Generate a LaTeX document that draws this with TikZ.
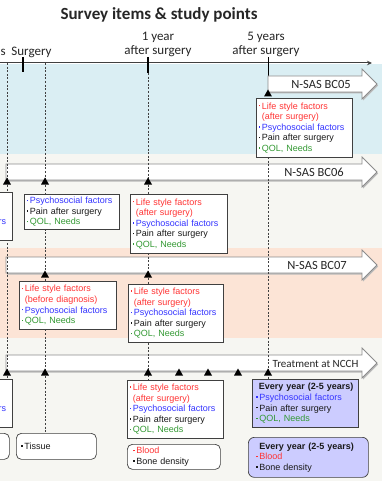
\documentclass[tikz,border=0pt]{standalone}
\usepackage{fontspec}
\newfontfamily\calf{Carlito}
\newfontfamily\arif{Liberation Sans}
\usetikzlibrary{arrows.meta}
\definecolor{bandblue}{HTML}{DAEEF3}
\definecolor{bandpeach}{HTML}{FCE4D6}
\definecolor{bandgray}{HTML}{F6F6F2}
\definecolor{tred}{HTML}{FF3333}
\definecolor{tblue}{HTML}{3333FF}
\definecolor{tgreen}{HTML}{339933}
\definecolor{lav}{HTML}{CCCCFF}
\definecolor{linec}{HTML}{404040}
\definecolor{arrc}{HTML}{8C8C8C}
\newcommand{\bul}{\rule[2.6pt]{1.5pt}{1.5pt}\hspace{1.6pt}}
\newcommand{\nobul}{\hspace{3.1pt}}
\newcommand{\tLsf}{\textcolor{tred}{\bul Life style factors}}
\newcommand{\tAft}{\textcolor{tred}{\nobul(after surgery)}}
\newcommand{\tBef}{\textcolor{tred}{\nobul(before diagnosis)}}
\newcommand{\tPsy}{\textcolor{tblue}{\bul Psychosocial factors}}
\newcommand{\tPain}{\bul Pain after surgery}
\newcommand{\tQol}{\textcolor{tgreen}{\bul QOL, Needs}}
\newcommand{\tBlood}{\textcolor{tred}{\bul Blood}}
\newcommand{\tBone}{\bul Bone density}
\newcommand{\tEvery}{\textbf{Every year (2-5 years)}}
\newcommand{\bigarr}[2]{%
  \fill[gray!55] (#1+1,#2-8+1.5) -- (363,#2-8+1.5) -- (363,#2-15+1.5) -- (378,#2+1.5) -- (363,#2+15+1.5) -- (363,#2+8+1.5) -- (#1+1,#2+8+1.5) -- cycle;
  \draw[arrc, line width=0.8pt, fill=white] (#1,#2-8) -- (362,#2-8) -- (362,#2-15) -- (377,#2) -- (362,#2+15) -- (362,#2+8) -- (#1,#2+8) -- cycle;}
\newcommand{\tri}[2]{\fill[black] (#1-4,#2+4.5) -- (#1+4,#2+4.5) -- (#1,#2-2.5) -- cycle;}
\tikzset{
  box/.style={draw=linec, line width=0.7pt, fill=white, anchor=north west, align=left,
    inner xsep=2.5pt, inner ysep=0pt, font=\arif\fontsize{9}{10.6}\selectfont, text=black!90},
  rbox/.style={box, rounded corners=5pt},
  lbox/.style={box, fill=lav},
  arrlab/.style={font=\calf\fontsize{12.5}{14}\selectfont, text=black!85},
  axlab/.style={font=\calf\fontsize{13}{14}\selectfont, anchor=base, text=black!85},
  dashline/.style={linec, line width=0.6pt, dash pattern=on 2pt off 1.6pt}
}
\begin{document}
\begin{tikzpicture}[x=1pt,y=-1pt]
\useasboundingbox (0,0) rectangle (382,481);
\clip (0,0) rectangle (382,481);
% bands
\fill[white] (0,0) rectangle (382,64);
\fill[bandblue] (0,64) rectangle (382,154);
\fill[bandgray] (0,154) rectangle (382,248);
\fill[bandpeach] (0,248) rectangle (382,338);
\fill[bandgray] (0,338) rectangle (382,481);
% title
\node[font=\calf\bfseries\fontsize{17}{20}\selectfont, text=black!85] (title) at (159,15) {Survey items \& study points};
% axis
\coordinate (ax0) at (0,63);
\coordinate (ax1) at (372,63);
\draw[linec, line width=1pt, -{Stealth[length=5pt,width=4.5pt]}] (ax0) -- (ax1);
\draw[black, line width=1.6pt] (23,57) -- (23,72);
\draw[black, line width=1.8pt] (148,57) -- (148,73);
\draw[black, line width=1pt] (268,57) -- (268,90);
% axis labels
\node[axlab, anchor=base east, inner xsep=0pt] (diag) at (6,55.5) {s};
\node[axlab] (surg) at (31.5,55.5) {Surgery};
\node[axlab] (y1a) at (158,41) {1 year};
\node[axlab] (y1b) at (158,54.5) {after surgery};
\node[axlab] (y5a) at (266,41) {5 years};
\node[axlab] (y5b) at (266,54.5) {after surgery};
% block arrows
\bigarr{268}{84}
\bigarr{6}{172}
\bigarr{6}{265}
\bigarr{6}{363}
\node[arrlab] (lbc05) at (321,84.5) {N-SAS BC05};
\node[arrlab] (lbc06) at (314,172.5) {N-SAS BC06};
\node[arrlab] (lbc07) at (317,265.5) {N-SAS BC07};
\node[arrlab, font=\calf\fontsize{11}{13}\selectfont] (lncch) at (315.5,363.5) {Treatment at NCCH};
% guide coordinates
\coordinate (g7) at (7,63);
\coordinate (g45) at (45,63);
\coordinate (g148) at (148,73);
\coordinate (g268) at (268,157);
\draw[dashline] (g7) -- (7,379);
\draw[dashline] (g45) -- (45,433);
\draw[dashline] (g148) -- (148,380);
\draw[dashline] (g268) -- (268,379);
% triangles
\tri{268}{92}
\tri{7}{180}\tri{45}{180}\tri{148}{180}
\tri{45}{273}\tri{148}{273}
\tri{7}{371}\tri{45}{371}\tri{148}{371}\tri{179}{371}\tri{208}{371}\tri{238}{371}\tri{268}{371}
% boxes
\node[box, minimum width=96pt, minimum height=59pt, text width=91pt] (bc05box) at (256,98) {\tLsf\\\tAft\\\tPsy\\\tPain\\\tQol};
\node[box, minimum width=97pt, minimum height=48pt] (bc06l) at (-85,192) {};
\node[box, draw=none, fill=none, anchor=base east, text=tblue, inner xsep=0pt] (bc06lrs) at (6.5,224.8) {rs};
\node[box, minimum width=95pt, minimum height=35pt, text width=90pt] (bc06s) at (24,194) {\tPsy\\\tPain\\\tQol};
\node[box, minimum width=97pt, minimum height=59pt, text width=92pt] (bc06y) at (130,194) {\tLsf\\\tAft\\\tPsy\\\tPain\\\tQol};
\node[box, minimum width=97pt, minimum height=48pt, text width=92pt] (bc07s) at (19,281) {\tLsf\\\tBef\\\tPsy\\\tQol};
\node[box, minimum width=95pt, minimum height=58pt, text width=90pt] (bc07y) at (128,284) {\tLsf\\\tAft\\\tPsy\\\tPain\\\tQol};
\node[box, minimum width=97pt, minimum height=48pt] (ncl) at (-85,379) {};
\node[box, draw=none, fill=none, anchor=base east, text=tblue, inner xsep=0pt] (nclrs) at (6.5,411.5) {rs};
\node[rbox, minimum width=69pt, minimum height=26pt] (ncl2) at (-60,433) {};
\node[rbox, minimum width=80pt, minimum height=26pt, text width=70pt, inner xsep=5pt] (tissue) at (16,433) {\bul Tissue};
\node[box, minimum width=96pt, minimum height=58pt, text width=91pt] (ncy) at (127,380) {\tLsf\\\tAft\\\tPsy\\\tPain\\\tQol};
\node[rbox, minimum width=93pt, minimum height=25pt, text width=81pt, inner xsep=6pt] (blood) at (127,444) {\tBlood\\\tBone};
\node[lbox, minimum width=106pt, minimum height=48pt, text width=98pt, inner xsep=4pt] (every1) at (252,379) {\hspace{2.5pt}\tEvery\\\tPsy\\\tPain\\\tQol};
\node[lbox, rounded corners=6pt, minimum width=120pt, minimum height=40pt, text width=104pt, inner xsep=8pt] (every2) at (248,437) {\hspace{3pt}\tEvery\\\tBlood\\\tBone};
\end{tikzpicture}
\end{document}
